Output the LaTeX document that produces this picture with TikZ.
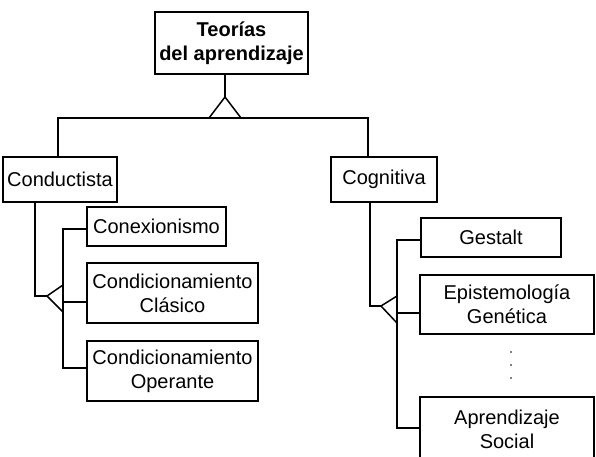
\documentclass[tikz,border=0pt]{standalone}
\usepackage{fontspec}
\setmainfont{Liberation Sans}
\begin{document}
\begin{tikzpicture}[x=1pt,y=-1pt,
  box/.style={draw, line width=1.5pt, inner sep=0pt, align=center, font=\fontsize{20}{24}\selectfont},
  ln/.style={line width=1.5pt}]
\useasboundingbox (0,0) rectangle (596,456);
% nodes
\node[box, minimum width=153pt, minimum height=62pt] (top) at (231.5,43) {\bfseries Teorías\\\bfseries del aprendizaje};
\node[box, minimum width=114pt, minimum height=45pt] (conduct) at (60,179.5) {Conductista};
\node[box, minimum width=106pt, minimum height=45pt] (cogn) at (384,179.5) {Cognitiva};
\node[box, minimum width=139pt, minimum height=39pt] (conex) at (156.5,226.5) {Conexionismo};
\node[box, minimum width=171pt, minimum height=60pt] (clas) at (172.5,293) {Condicionamiento\\Clásico};
\node[box, minimum width=171pt, minimum height=60pt] (oper) at (172.5,371) {Condicionamiento\\Operante};
\node[box, minimum width=140pt, minimum height=39pt] (gest) at (491,237.5) {Gestalt};
\node[box, minimum width=174pt, minimum height=59pt] (epis) at (507,304.5) {Epistemología\\Genética};
\node[box, minimum width=174pt, minimum height=64pt] (apren) at (507,429) {Aprendizaje\\Social};
% top connector
\coordinate (a0) at (225,97);
\coordinate (b0L) at (58,118);
\coordinate (b0R) at (368,118);
\draw[ln] (top.south -| a0) -- (a0);
\draw[ln, line join=miter] (a0) -- (209,118) -- (241,118) -- cycle;
\draw[ln] (conduct.north -| b0L) -- (b0L) -- (b0R) -- (cogn.north -| b0R);
% left subtree
\coordinate (s1) at (35,296);
\coordinate (a1) at (47,296);
\coordinate (l1t) at (63,229);
\coordinate (l1m) at (63,302);
\coordinate (l1b) at (63,368);
\draw[ln] (conduct.south -| s1) -- (s1) -- (a1);
\draw[ln, line join=miter] (a1) -- (63,285) -- (63,312) -- cycle;
\draw[ln] (conex.west |- l1t) -- (l1t) -- (l1b) -- (oper.west |- l1b);
\draw[ln] (l1m) -- (clas.west |- l1m);
% right subtree
\coordinate (s2) at (370,306);
\coordinate (a2) at (381,306);
\coordinate (r1t) at (397,240);
\coordinate (r1m) at (397,313);
\coordinate (r1b) at (397,428);
\draw[ln] (cogn.south -| s2) -- (s2) -- (a2);
\draw[ln, line join=miter] (a2) -- (397,296) -- (397,323) -- cycle;
\draw[ln] (gest.west |- r1t) -- (r1t) -- (r1b) -- (apren.west |- r1b);
\draw[ln] (r1m) -- (epis.west |- r1m);
% dots
\foreach \yy in {352,365,378} \fill (511,\yy) circle (0.8pt);
\end{tikzpicture}
\end{document}
